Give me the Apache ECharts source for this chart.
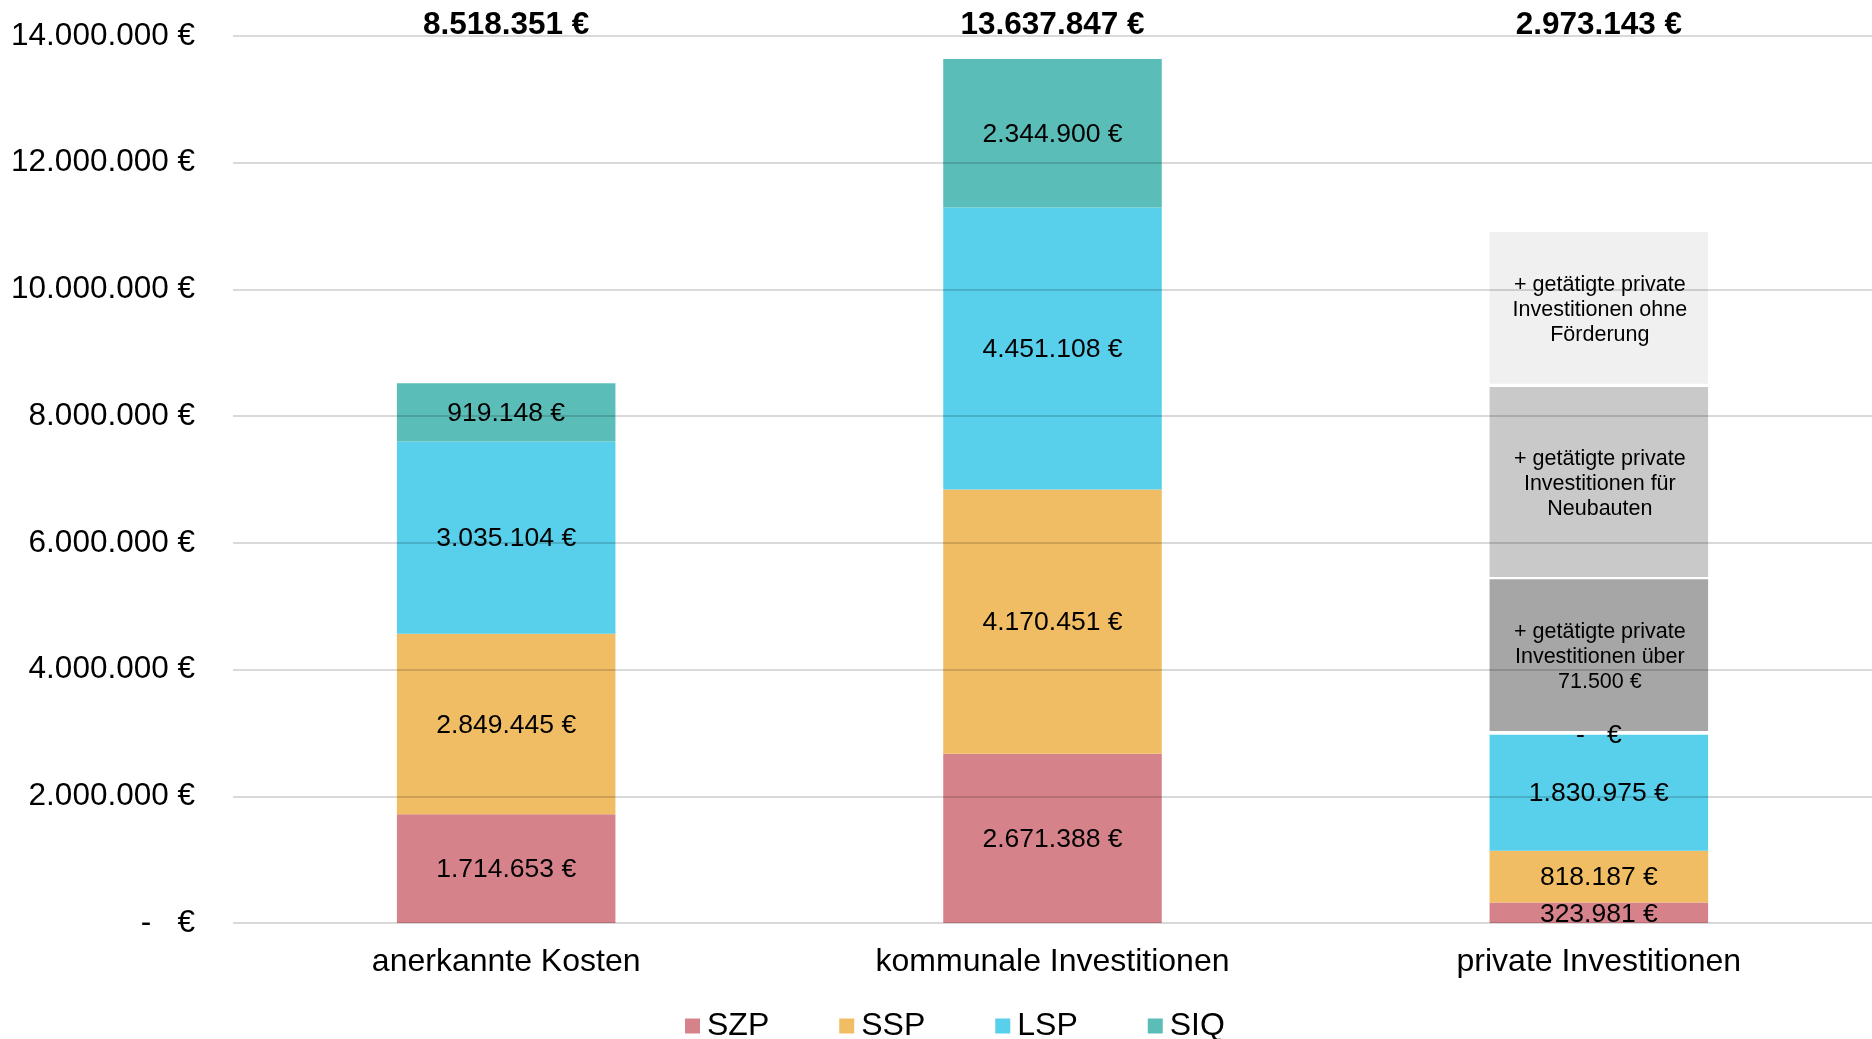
<!DOCTYPE html>
<html>
<head>
<meta charset="utf-8">
<script src="https://cdn.jsdelivr.net/npm/echarts@6/dist/echarts.min.js"></script>
<style>
html,body{margin:0;padding:0;background:#fff;}
#chart{width:1872px;height:1039px;}
</style>
</head>
<body>
<div id="chart"></div>
<script>
const categories = ['anerkannte Kosten', 'kommunale Investitionen', 'private Investitionen'];
const szp = [1714653, 2671388, 323981];
const ssp = [2849445, 4170451, 818187];
const lsp = [3035104, 4451108, 1830975];
const siq = [919148, 2344900, 0];
const totalLabels = ['8.518.351 €', '13.637.847 €', '2.973.143 €'];
// grey "+ getätigte private Investitionen" boxes on the private bar
const gapA = [null, null, 57000];
const privOver = [null, null, 2395000];
const gapB = [null, null, 36000];
const privNeu = [null, null, 2999000];
const gapC = [null, null, 52000];
const privOhne = [null, null, 2394000];
const privOverText = '+ getätigte private\nInvestitionen über\n71.500 €';
const privNeuText = '+ getätigte private\nInvestitionen für\nNeubauten';
const privOhneText = '+ getätigte private\nInvestitionen ohne\nFörderung';
const yTicks = { min: 0, max: 14000000, interval: 2000000 };

const FONT = "'Liberation Sans', Arial, sans-serif";

function fmt(v) {
  if (!v) return '-   €';
  return String(Math.round(v)).replace(/\B(?=(\d{3})+(?!\d))/g, '.') + ' €';
}

const chart = echarts.init(document.getElementById('chart'), null, { renderer: 'canvas' });

function valueSeries(name, data, color) {
  return {
    name: name, type: 'bar', stack: 'total', data: data, barWidth: '40%',
    itemStyle: { color: color },
    label: {
      show: true, position: 'inside', offset: [0, 1.5], fontFamily: FONT, fontSize: 26.5, color: '#000',
      formatter: p => fmt(p.value)
    }
  };
}
function greySeries(name, data, color, text) {
  return {
    name: name, type: 'bar', stack: 'total', data: data, barWidth: '40%',
    itemStyle: { color: color },
    label: {
      show: true, position: 'inside', offset: [1, 2], fontFamily: FONT, fontSize: 21.5, lineHeight: 25,
      color: '#000', align: 'center', formatter: () => text
    }
  };
}
function gapSeries(name, data) {
  return {
    name: name, type: 'bar', stack: 'total', data: data, barWidth: '40%',
    itemStyle: { color: 'rgba(255,255,255,0)' }, label: { show: false }, silent: true
  };
}

chart.setOption({
  animation: false,
  backgroundColor: '#fff',
  grid: { left: 233, right: 0, top: 36, bottom: 116, containLabel: false },
  legend: {
    data: ['SZP', 'SSP', 'LSP', 'SIQ'],
    left: 680, top: 1005, itemGap: 70, itemWidth: 15, itemHeight: 15, icon: 'rect',
    textStyle: { fontFamily: FONT, fontSize: 32, color: '#000', padding: [0, 0, 0, 2] }
  },
  xAxis: [
    {
      type: 'category', data: categories, position: 'bottom',
      axisLine: { show: false }, axisTick: { show: false },
      axisLabel: { fontFamily: FONT, fontSize: 32, color: '#000', margin: 23 }
    },
    {
      type: 'category', data: totalLabels, position: 'top',
      axisLine: { show: false }, axisTick: { show: false },
      axisLabel: { fontFamily: FONT, fontSize: 31.5, fontWeight: 'bold', color: '#000', margin: -5 }
    }
  ],
  yAxis: {
    type: 'value', min: yTicks.min, max: yTicks.max, interval: yTicks.interval, z: 10,
    axisLine: { show: false }, axisTick: { show: false },
    splitLine: { show: true, lineStyle: { color: 'rgba(0,0,0,0.15)', width: 2 } },
    axisLabel: { fontFamily: FONT, fontSize: 31.5, color: '#000', margin: 38, padding: [5, 0, 0, 0], formatter: v => fmt(v) }
  },
  series: [
    valueSeries('SZP', szp, '#d6828a'),
    valueSeries('SSP', ssp, '#f1bd64'),
    valueSeries('LSP', lsp, '#58cfeb'),
    valueSeries('SIQ', siq, '#5bbdb7'),
    gapSeries('gapA', gapA),
    greySeries('über 71.500 €', privOver, '#a6a6a6', privOverText),
    gapSeries('gapB', gapB),
    greySeries('Neubauten', privNeu, '#c9c9c9', privNeuText),
    gapSeries('gapC', gapC),
    greySeries('ohne Förderung', privOhne, '#f0f0f0', privOhneText)
  ]
});
</script>
</body>
</html>
